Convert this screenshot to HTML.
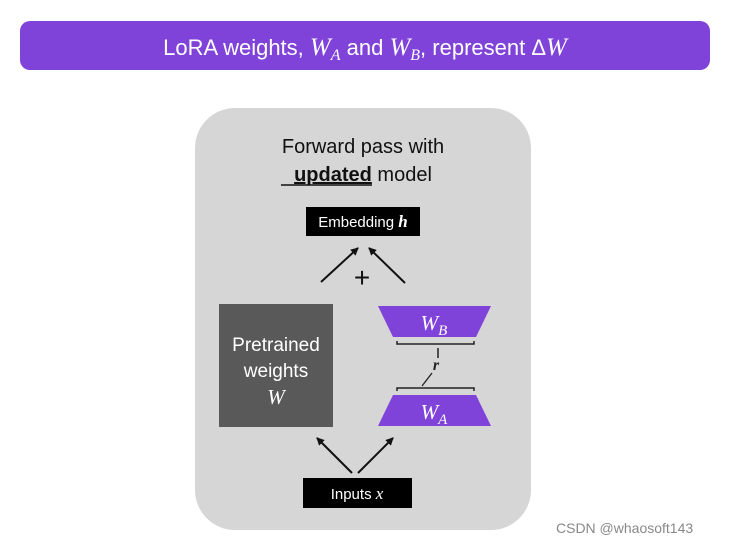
<!DOCTYPE html>
<html><head><meta charset="utf-8"><style>
html,body{margin:0;padding:0;background:#fff;width:746px;height:544px;overflow:hidden}
svg{display:block}
</style></head><body>
<svg width="746" height="544" viewBox="0 0 746 544" xmlns="http://www.w3.org/2000/svg" font-family="Liberation Sans, sans-serif">
<defs><marker id="ah" markerWidth="8" markerHeight="8" refX="7" refY="4" orient="auto" markerUnits="userSpaceOnUse"><path d="M0,0 L8,4 L0,8 z" fill="#111"/></marker></defs>
<rect x="20" y="21" width="690" height="49" rx="10" fill="#8043d9"/>
<text x="365" y="55" text-anchor="middle" fill="#fff" font-size="22">LoRA weights, <tspan font-family="Liberation Serif, serif" font-style="italic" font-size="25">W</tspan><tspan font-family="Liberation Serif, serif" font-style="italic" font-size="16" dy="5">A</tspan><tspan dy="-5"> and </tspan><tspan font-family="Liberation Serif, serif" font-style="italic" font-size="25">W</tspan><tspan font-family="Liberation Serif, serif" font-style="italic" font-size="16" dy="5">B</tspan><tspan dy="-5">, represent Δ</tspan><tspan font-family="Liberation Serif, serif" font-style="italic" font-size="25">W</tspan></text>
<rect x="195" y="108" width="336" height="422" rx="40" fill="#d6d6d6"/>
<text x="363" y="153" text-anchor="middle" font-size="20" fill="#111">Forward pass with</text>
<text x="363" y="181" text-anchor="middle" font-size="20" fill="#111"><tspan font-weight="bold" text-decoration="underline">updated</tspan> model</text>
<line x1="281" y1="185" x2="372" y2="185" stroke="#111" stroke-width="1.5"/>
<rect x="306" y="207" width="114" height="29" fill="#000"/>
<text x="363" y="227" text-anchor="middle" font-size="15" fill="#fff">Embedding <tspan font-family="Liberation Serif, serif" font-style="italic" font-weight="bold" font-size="17">h</tspan></text>
<line x1="321" y1="282" x2="358" y2="248" stroke="#111" stroke-width="2" marker-end="url(#ah)"/>
<line x1="405" y1="283" x2="369" y2="248" stroke="#111" stroke-width="2" marker-end="url(#ah)"/>
<text x="362" y="287" text-anchor="middle" font-size="28" fill="#111">+</text>
<rect x="219" y="304" width="114" height="123" fill="#595959"/>
<text x="276" y="351" text-anchor="middle" font-size="19" fill="#fff">Pretrained</text>
<text x="276" y="377" text-anchor="middle" font-size="19" fill="#fff">weights</text>
<text x="276" y="404" text-anchor="middle" font-size="21" fill="#fff" font-family="Liberation Serif, serif" font-style="italic">W</text>
<polygon points="378,306 491,306 476,337 393,337" fill="#8043d9"/>
<text x="434" y="330" text-anchor="middle" fill="#fff" font-family="Liberation Serif, serif" font-style="italic" font-size="21">W<tspan font-size="15" dy="5">B</tspan></text>
<path d="M397,341 v3 h77 v-3" fill="none" stroke="#222" stroke-width="1.5"/>
<line x1="438" y1="348" x2="438" y2="358" stroke="#222" stroke-width="1.5"/>
<text x="436" y="370" text-anchor="middle" font-family="Liberation Serif, serif" font-style="italic" font-weight="bold" font-size="16" fill="#222">r</text>
<line x1="432" y1="373" x2="422" y2="386" stroke="#222" stroke-width="1.3"/>
<path d="M397,391 v-3 h77 v3" fill="none" stroke="#222" stroke-width="1.5"/>
<polygon points="393,395 476,395 491,426 378,426" fill="#8043d9"/>
<text x="434" y="419" text-anchor="middle" fill="#fff" font-family="Liberation Serif, serif" font-style="italic" font-size="21">W<tspan font-size="15" dy="5">A</tspan></text>
<line x1="352" y1="473" x2="317" y2="438" stroke="#111" stroke-width="2" marker-end="url(#ah)"/>
<line x1="358" y1="473" x2="393" y2="438" stroke="#111" stroke-width="2" marker-end="url(#ah)"/>
<rect x="303" y="478" width="109" height="30" fill="#000"/>
<text x="357" y="499" text-anchor="middle" font-size="15" fill="#fff">Inputs <tspan font-family="Liberation Serif, serif" font-style="italic" font-size="17">x</tspan></text>
<text x="556" y="533" font-size="14" fill="#888">CSDN @whaosoft143</text>
</svg>
</body></html>
